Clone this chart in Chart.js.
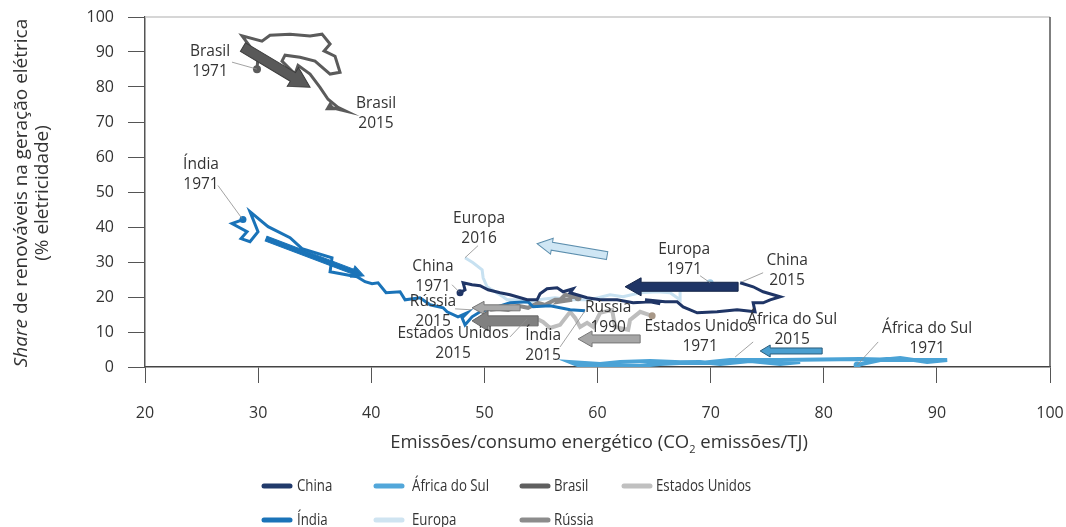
<!DOCTYPE html>
<html lang="pt">
<head>
  <meta charset="UTF-8">
  <title>Renováveis x intensidade de emissões</title>
  <script src="https://cdn.jsdelivr.net/npm/chart.js@4.4.1/dist/chart.umd.min.js"></script>
  <style>
    body { margin: 0; background: #fff; }
    #wrap { position: relative; width: 1066px; height: 527px; }
  </style>
</head>
<body>
<div id="wrap"><canvas id="chart" width="1066" height="527"></canvas></div>

<script>
// [emissões/consumo energético, share renováveis %]
const china = [[47.85,21.20],[48.29,22.06],[48.12,24.07],[48.91,23.50],[49.62,23.21],[50.33,22.06],[51.39,21.20],[52.27,20.63],
  [53.78,19.20],[54.66,19.20],[54.92,20.92],[55.54,22.35],[56.43,22.64],[56.96,21.49],[57.84,22.35],[57.58,21.20],[59.08,19.77],
  [60.23,19.20],[61.73,19.20],[63.15,18.34],[64.65,18.62],[65.54,18.05],[64.21,19.20],[65.98,18.62],[67.04,18.62],[67.57,17.19],
  [68.81,15.47],[70.57,15.76],[72.34,16.33],[73.93,15.76],[73.76,18.34],[74.64,18.34],[75.26,19.20],[76.15,20.06],[74.64,21.49],
  [73.76,22.92],[72.61,24.07]];
const india = [[28.66,42.12],[27.69,40.97],[29.02,38.68],[28.49,36.68],[29.28,35.82],[29.99,38.68],[29.28,44.41],[30.88,40.11],
  [32.82,36.96],[33.88,33.81],[36.53,31.23],[36.36,27.22],[38.74,25.79],[39.45,24.36],[40.07,23.78],[40.60,24.07],[41.31,21.20],
  [42.55,21.49],[42.99,19.20],[44.31,19.77],[45.20,17.77],[46.35,16.91],[46.70,15.76],[47.67,14.33],[48.47,15.47],[48.03,14.04],
  [48.29,12.03],[48.91,14.33],[49.62,15.76],[51.12,17.19],[52.27,18.34],[53.86,18.62],[54.31,17.19],[55.81,17.48],[57.58,16.33],
  [58.90,16.05]];
const africaDoSul = [[82.95,0.57],[84.99,2.01],[86.76,2.58],[89.14,1.43],[90.91,2.01],[86.76,2.01],[83.22,2.29],[76.15,2.01],
  [71.72,2.01],[69.07,1.15],[64.65,1.72],[62.00,1.43],[60.23,0.86],[57.58,1.43],[58.46,0.29],[62.00,0.57],[63.77,0.29],
  [65.54,0.86],[69.07,1.43],[70.84,0.86],[73.49,1.72],[76.15,0.86],[77.91,1.43],[74.38,2.01],[71.99,1.43]];
const europa = [[69.96,24.07],[69.07,22.64],[68.19,22.92],[67.30,22.06],[67.30,19.20],[66.42,21.20],[65.27,21.49],[63.77,21.20],
  [62.26,20.06],[61.11,20.63],[59.35,19.20],[57.58,19.20],[56.25,19.77],[54.75,19.20],[53.78,18.34],[52.89,19.20],[52.01,19.20],
  [51.65,20.06],[50.95,21.49],[50.24,22.92],[49.89,25.50],[49.80,27.79],[49.00,29.80],[48.29,31.23]];
const brasil = [[29.90,85.1],[29.99,88.5],[28.58,94.6],[30.34,93.1],[31.05,94.8],[32.82,95.1],[34.59,94.6],[35.65,95.1],
  [36.36,92.3],[35.83,90.3],[36.80,88.8],[37.24,84.2],[36.36,83.7],[35.03,87.4],[33.70,88.5],[32.38,89.1],[32.11,87.4],
  [33.26,83.7],[33.53,86.2],[34.59,83.7],[35.47,79.9],[36.18,76.5],[37.06,74.2],[37.77,73.1],[36.36,74.2]];
const russia = [[58.28,19.77],[57.14,20.63],[56.52,18.62],[57.75,19.20],[56.25,19.20],[55.37,17.77],[54.75,18.34],[53.86,16.91],
  [52.98,17.48],[52.10,16.33],[51.21,16.62],[50.50,16.33]];
const estadosUnidos = [[64.83,14.61],[63.77,15.76],[62.88,13.47],[62.71,10.60],[61.56,11.46],[61.29,16.33],[60.23,15.47],
  [59.61,11.46],[59.08,12.61],[58.46,11.46],[58.02,14.04],[57.58,15.76],[56.69,12.03],[55.81,11.17],[55.19,12.89],[54.48,14.04],
  [53.78,13.47]];

// trend arrows: [x0, y0, x1, y1] in data units
const arrows = [[28.66,91.40,34.59,79.94],[30.70,36.68,39.36,26.07],[60.85,31.81,54.66,35.24],[72.43,22.92,62.44,22.92],
  [79.86,4.58,74.38,4.58],[53.16,16.91,48.91,16.91],[54.75,13.18,48.91,13.18],[63.77,8.02,58.28,8.02]];

// labels: text lines, centre, connector from -> to (data units)
const pointLabels = [
  { text: ['Brasil', '1971'], at: [25.75, 87.4], line: [27.69, 87.1, 29.90, 85.1] },
  { text: ['Brasil', '2015'], at: [40.42, 72.5] },
  { text: ['Índia', '1971'], at: [24.95, 55.0], line: [26.45, 51.86, 28.58, 42.41] },
  { text: ['Europa', '2016'], at: [49.53, 39.54], line: [49.44, 34.67, 48.29, 31.23] },
  { text: ['China', '1971'], at: [45.46, 25.79], line: [47.14, 23.50, 47.76, 21.49] },
  { text: ['Rússia', '2015'], at: [45.46, 15.76], line: [47.41, 16.62, 48.91, 16.33] },
  { text: ['Estados Unidos', '2015'], at: [47.23, 6.59], line: [52.27, 8.60, 53.78, 13.75] },
  { text: ['Índia', '2015'], at: [55.19, 6.02], line: [56.69, 5.73, 58.90, 16.05] },
  { text: ['Rússia', '1990'], at: [60.94, 14.04] },
  { text: ['Estados Unidos', '1971'], at: [69.07, 8.60] },
  { text: ['Europa', '1971'], at: [67.66, 30.66], line: [69.07, 26.07, 69.96, 24.07] },
  { text: ['China', '2015'], at: [76.76, 27.5], line: [74.64, 26.93, 72.79, 24.36] },
  { text: ['África do Sul', '2015'], at: [77.21, 10.6], line: [73.76, 7.16, 72.17, 2.87] },
  { text: ['África do Sul', '1971'], at: [89.14, 8.02], line: [84.81, 7.16, 82.95, 0.57] }
];

const FONT = '"Open Sans", "DejaVu Sans", sans-serif';

// arrow look, same order as arrows
const arrowLook = [
  { body: 10, head: 22, len: 20, fill: '#595959', stroke: '#3d3d3d' },
  { body: 5, head: 12, len: 12, fill: '#1a73b8', stroke: '#1a73b8' },
  { body: 8, head: 16, len: 15, fill: '#cfe6f4', stroke: '#5d8fae' },
  { body: 9, head: 18, len: 16, fill: '#1f3566', stroke: '#15264a' },
  { body: 6, head: 12, len: 10, fill: '#4a9fd0', stroke: '#2b5d7c' },
  { body: 6, head: 13, len: 12, fill: '#a8a8a8', stroke: '#777' },
  { body: 10, head: 20, len: 16, fill: '#808080', stroke: '#666' },
  { body: 8, head: 16, len: 14, fill: '#a6a6a6', stroke: '#777' }
];

function series(label, pts, color, width, opts) {
  return Object.assign({
    label: label,
    data: pts.map(p => ({ x: p[0], y: p[1] })),
    showLine: true,
    borderColor: color,
    backgroundColor: color,
    borderWidth: width,
    borderJoinStyle: 'miter',
    tension: 0,
    pointRadius: pts.map((p, i) => i === 0 ? 3.5 : 0),
    pointBorderWidth: 0
  }, opts || {});
}

// first dataset is drawn on top
const datasets = [
  series('África do Sul', africaDoSul, '#4ba3d6', 4),
  series('China', china, '#1f3566', 3),
  series('Índia', india, '#1a73b8', 3),
  series('Brasil', brasil, '#5b5b5b', 3, {
    pointRadius: brasil.map((p, i) => i === 0 ? 4 : (i === brasil.length - 1 ? 6 : 0)),
    pointStyle: brasil.map((p, i) => i === brasil.length - 1 ? 'triangle' : 'circle')
  }),
  series('Rússia', russia, '#8a8a8a', 4),
  series('Estados Unidos', estadosUnidos, '#bdbdbd', 4, { pointBackgroundColor: '#a89888' }),
  series('Europa', europa, '#c7e1f1', 3, { pointBackgroundColor: '#9cc9e6' })
];

const legendRows = [
  [['China', '#213a6b'], ['África do Sul', '#52a7da'], ['Brasil', '#5f5f5f'], ['Estados Unidos', '#c0c0c0']],
  [['Índia', '#1a73b8'], ['Europa', '#cfe4f1'], ['Rússia', '#8c8c8c']]
];

function drawArrow(ctx, x0, y0, x1, y1, a) {
  const ang = Math.atan2(y1 - y0, x1 - x0);
  const len = Math.hypot(x1 - x0, y1 - y0);
  ctx.save();
  ctx.translate(x0, y0);
  ctx.rotate(ang);
  ctx.beginPath();
  ctx.moveTo(0, -a.body / 2);
  ctx.lineTo(len - a.len, -a.body / 2);
  ctx.lineTo(len - a.len, -a.head / 2);
  ctx.lineTo(len, 0);
  ctx.lineTo(len - a.len, a.head / 2);
  ctx.lineTo(len - a.len, a.body / 2);
  ctx.lineTo(0, a.body / 2);
  ctx.closePath();
  ctx.fillStyle = a.fill;
  ctx.fill();
  ctx.strokeStyle = a.stroke;
  ctx.lineWidth = 1;
  ctx.stroke();
  ctx.restore();
}

const extras = {
  id: 'extras',
  beforeDatasetsDraw(chart) {
    const { ctx, chartArea: ca } = chart;
    ctx.save();
    ctx.lineWidth = 1.5;
    ctx.strokeStyle = '#c8c8c8';
    ctx.beginPath(); ctx.moveTo(ca.left, ca.top); ctx.lineTo(ca.right, ca.top); ctx.stroke();
    ctx.strokeStyle = '#555';
    ctx.beginPath(); ctx.moveTo(ca.right, ca.top); ctx.lineTo(ca.right, ca.bottom); ctx.stroke();
    ctx.restore();
  },
  afterDatasetsDraw(chart) {
    const { ctx, scales: { x, y } } = chart;
    arrows.forEach((a, i) => {
      drawArrow(ctx, x.getPixelForValue(a[0]), y.getPixelForValue(a[1]),
        x.getPixelForValue(a[2]), y.getPixelForValue(a[3]), arrowLook[i]);
    });
    ctx.save();
    ctx.strokeStyle = '#8c8c8c';
    ctx.lineWidth = 0.8;
    ctx.fillStyle = '#333';
    ctx.font = '15.5px ' + FONT;
    ctx.textAlign = 'center';
    ctx.textBaseline = 'middle';
    pointLabels.forEach(l => {
      if (l.line) {
        ctx.beginPath();
        ctx.moveTo(x.getPixelForValue(l.line[0]), y.getPixelForValue(l.line[1]));
        ctx.lineTo(x.getPixelForValue(l.line[2]), y.getPixelForValue(l.line[3]));
        ctx.stroke();
      }
      const cx = x.getPixelForValue(l.at[0]);
      const cy = y.getPixelForValue(l.at[1]);
      ctx.fillText(l.text[0], cx, cy - 10);
      ctx.fillText(l.text[1], cx, cy + 10);
    });
    ctx.restore();
  },
  afterDraw(chart) {
    const ctx = chart.ctx;
    ctx.save();
    ctx.fillStyle = '#333';
    ctx.textBaseline = 'middle';

    // y title, "Share" in italics
    ctx.save();
    ctx.translate(22, 193);
    ctx.rotate(-Math.PI / 2);
    const it = 'italic 19px ' + FONT, rg = '19px ' + FONT;
    const rest = ' de renováveis na geração elétrica';
    ctx.font = it; const w1 = ctx.measureText('Share').width;
    ctx.font = rg; const w2 = ctx.measureText(rest).width;
    ctx.textAlign = 'left';
    ctx.font = it; ctx.fillText('Share', -(w1 + w2) / 2, 0);
    ctx.font = rg; ctx.fillText(rest, -(w1 + w2) / 2 + w1, 0);
    ctx.textAlign = 'center';
    ctx.fillText('(% eletricidade)', 0, 21);
    ctx.restore();

    // x title with subscript
    const xt = '18.5px ' + FONT;
    const a = 'Emissões/consumo energético (CO', b = '2', c = ' emissões/TJ)';
    ctx.font = xt;
    const wa = ctx.measureText(a).width, wc = ctx.measureText(c).width;
    ctx.font = '11px ' + FONT;
    const wb = ctx.measureText(b).width;
    let sx = 599 - (wa + wb + wc) / 2;
    ctx.textAlign = 'left';
    ctx.font = xt; ctx.fillText(a, sx, 443);
    ctx.font = '11px ' + FONT; ctx.fillText(b, sx + wa, 450);
    ctx.font = xt; ctx.fillText(c, sx + wa + wb, 443);

    // legend (condensed text)
    const cols = [262, 374, 520, 622];
    const textX = [297, 412, 554, 656];
    const rowsY = [486, 520];
    ctx.lineCap = 'round';
    ctx.lineWidth = 5;
    ctx.font = '17px ' + FONT;
    legendRows.forEach((row, r) => {
      row.forEach((item, k) => {
        const lx = cols[k], ly = rowsY[r];
        ctx.strokeStyle = item[1];
        ctx.beginPath(); ctx.moveTo(lx + 2, ly); ctx.lineTo(lx + 28, ly); ctx.stroke();
        ctx.save();
        ctx.translate(textX[k], ly);
        ctx.scale(0.78, 1);
        ctx.fillText(item[0], 0, 0);
        ctx.restore();
      });
    });
    ctx.restore();
  }
};

const ctx = document.getElementById('chart').getContext('2d');
const myChart = new Chart(ctx, {
  type: 'scatter',
  data: { datasets: datasets },
  plugins: [extras],
  options: {
    responsive: false,
    animation: false,
    events: [],
    layout: { padding: { top: 17, right: 16, left: 0, bottom: 0 } },
    plugins: { legend: { display: false }, tooltip: { enabled: false } },
    scales: {
      x: {
        type: 'linear', min: 20, max: 100,
        ticks: { stepSize: 10, color: '#333', font: { family: FONT, size: 16 }, padding: 21 },
        grid: { drawOnChartArea: false, tickLength: 16, color: '#555' },
        border: { color: '#444', width: 1.5 },
        afterFit: s => { s.height = 160; s.paddingLeft = 0; s.paddingRight = 0; }
      },
      y: {
        min: 0, max: 100,
        ticks: { stepSize: 10, color: '#333', font: { family: FONT, size: 16 }, padding: 14 },
        grid: { drawOnChartArea: false, tickLength: 17, color: '#555' },
        border: { color: '#555', width: 1.5 },
        afterFit: s => { s.width = 145; s.paddingTop = 0; s.paddingBottom = 0; }
      }
    }
  }
});
</script>
</body>
</html>
